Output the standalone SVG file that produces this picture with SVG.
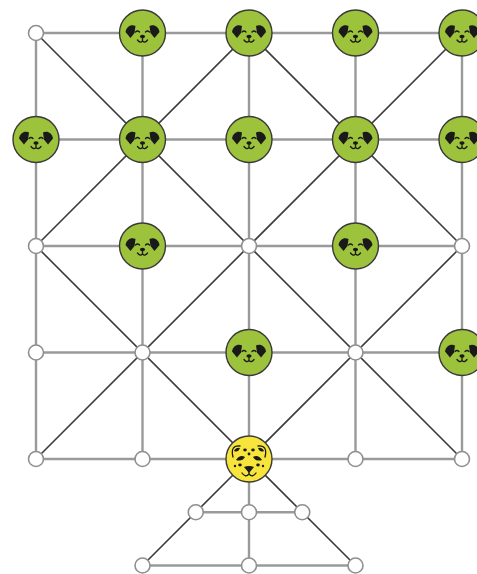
<svg xmlns="http://www.w3.org/2000/svg" width="477" height="574" viewBox="0 0 477 574">
  <style>
    .ortho { stroke: #9a9a9a; stroke-width: 2.4; fill: none; }
    .diag { stroke: #3c3c3c; stroke-width: 1.6; fill: none; }
    .spot { fill: #ffffff; stroke: #8f8f8f; stroke-width: 1.6; }
    .dog-disc { fill: #9dc23b; stroke: #3a3a3a; stroke-width: 1.4; }
    .cat-disc { fill: #f7e53c; stroke: #3a3a3a; stroke-width: 1.4; }
    .ink { fill: #1a1a1a; }
    .inkline { stroke: #1a1a1a; stroke-width: 1.3; fill: none; stroke-linecap: round; }
  </style>
  <defs>
    <!-- goat/dog piece: green disc with a simple face -->
    <g id="dog">
      <circle class="dog-disc" r="23"/>
      <path class="ink" d="M-17,-1 C-16,-7 -11,-9 -7,-7 L-8,0 L-12,5 Z"/>
      <path class="ink" d="M17,-1 C16,-7 11,-9 7,-7 L8,0 L12,5 Z"/>
      <path class="inkline" d="M-7,-1 Q-5,-3 -3,-1"/>
      <path class="inkline" d="M3,-1 Q5,-3 7,-1"/>
      <ellipse class="ink" cx="0" cy="3.5" rx="2.6" ry="1.8"/>
      <path class="inkline" d="M0,4 V8 M-5,7 Q-2.5,10.5 0,8 Q2.5,10.5 5,7"/>
    </g>
    <!-- leopard piece: yellow disc with a spotted face -->
    <g id="leopard">
      <circle class="cat-disc" r="23"/>
      <path class="inkline" stroke-width="1.6" d="M-16,-2 Q-19,-14 -9,-13 M16,-2 Q19,-14 9,-13"/>
      <path class="ink" d="M-15,-8 Q-13,-12 -9,-11 Q-11,-6 -15,-8 Z"/>
      <path class="ink" d="M15,-8 Q13,-12 9,-11 Q11,-6 15,-8 Z"/>
      <path class="ink" d="M-13,1 Q-9,-5 -4,-2 Q-7,3 -13,1 Z"/>
      <path class="ink" d="M13,1 Q9,-5 4,-2 Q7,3 13,1 Z"/>
      <ellipse class="ink" cx="-4" cy="-9" rx="1.8" ry="1.4"/>
      <ellipse class="ink" cx="4" cy="-9" rx="1.8" ry="1.4"/>
      <circle class="ink" cx="0" cy="-5" r="1.4"/>
      <ellipse class="ink" cx="-9" cy="6" rx="1.8" ry="1.4"/>
      <ellipse class="ink" cx="9" cy="6" rx="1.8" ry="1.4"/>
      <circle class="ink" cx="-14" cy="7" r="1.2"/>
      <circle class="ink" cx="14" cy="7" r="1.2"/>
      <path class="ink" d="M-5,8 Q0,6 5,8 L0,14 Z"/>
      <path class="inkline" stroke-width="1.6" d="M0,13 V15 M-7,14 Q-3.5,19 0,15 Q3.5,19 7,14"/>
    </g>
  </defs>

  <g id="connectors">
    <!-- grid rows -->
    <path class="ortho" d="M36,33 H462 M36,139.5 H462 M36,246 H462 M36,352.5 H462 M36,459 H462"/>
    <!-- grid columns -->
    <path class="ortho" d="M36,33 V459 M142.5,33 V459 M249,33 V565.5 M355.5,33 V459 M462,33 V459"/>
    <!-- lower extension crossbars -->
    <path class="ortho" d="M195.75,512.25 H302.25 M142.5,565.5 H355.5"/>
    <!-- diagonals from every other intersection -->
    <path class="diag" d="M36,33 L142.5,139.5 L249,33 L355.5,139.5 L462,33"/>
    <path class="diag" d="M36,246 L142.5,139.5 L249,246 L355.5,139.5 L462,246"/>
    <path class="diag" d="M36,246 L142.5,352.5 L249,246 L355.5,352.5 L462,246"/>
    <path class="diag" d="M36,459 L142.5,352.5 L249,459 L355.5,352.5 L462,459"/>
    <!-- lower extension slopes -->
    <path class="diag" d="M249,459 L142.5,565.5 M249,459 L355.5,565.5"/>
  </g>

  <!-- empty points -->
  <g id="p00"><circle class="spot" cx="36" cy="33" r="7.5"/></g>
  <g id="p02"><circle class="spot" cx="36" cy="246" r="7.5"/></g>
  <g id="p22"><circle class="spot" cx="249" cy="246" r="7.5"/></g>
  <g id="p42"><circle class="spot" cx="462" cy="246" r="7.5"/></g>
  <g id="p03"><circle class="spot" cx="36" cy="352.5" r="7.5"/></g>
  <g id="p13"><circle class="spot" cx="142.5" cy="352.5" r="7.5"/></g>
  <g id="p33"><circle class="spot" cx="355.5" cy="352.5" r="7.5"/></g>
  <g id="p04"><circle class="spot" cx="36" cy="459" r="7.5"/></g>
  <g id="p14"><circle class="spot" cx="142.5" cy="459" r="7.5"/></g>
  <g id="p34"><circle class="spot" cx="355.5" cy="459" r="7.5"/></g>
  <g id="p44"><circle class="spot" cx="462" cy="459" r="7.5"/></g>
  <g id="e1l"><circle class="spot" cx="195.75" cy="512.25" r="7.5"/></g>
  <g id="e1c"><circle class="spot" cx="249" cy="512.25" r="7.5"/></g>
  <g id="e1r"><circle class="spot" cx="302.25" cy="512.25" r="7.5"/></g>
  <g id="e2l"><circle class="spot" cx="142.5" cy="565.5" r="7.5"/></g>
  <g id="e2c"><circle class="spot" cx="249" cy="565.5" r="7.5"/></g>
  <g id="e2r"><circle class="spot" cx="355.5" cy="565.5" r="7.5"/></g>

  <!-- dog pieces -->
  <g id="d10"><use href="#dog" x="142.5" y="33"/></g>
  <g id="d20"><use href="#dog" x="249" y="33"/></g>
  <g id="d30"><use href="#dog" x="355.5" y="33"/></g>
  <g id="d40"><use href="#dog" x="462" y="33"/></g>
  <g id="d01"><use href="#dog" x="36" y="139.5"/></g>
  <g id="d11"><use href="#dog" x="142.5" y="139.5"/></g>
  <g id="d21"><use href="#dog" x="249" y="139.5"/></g>
  <g id="d31"><use href="#dog" x="355.5" y="139.5"/></g>
  <g id="d41"><use href="#dog" x="462" y="139.5"/></g>
  <g id="d12"><use href="#dog" x="142.5" y="246"/></g>
  <g id="d32"><use href="#dog" x="355.5" y="246"/></g>
  <g id="d23"><use href="#dog" x="249" y="352.5"/></g>
  <g id="d43"><use href="#dog" x="462" y="352.5"/></g>

  <!-- leopard piece -->
  <g id="l24"><use href="#leopard" x="249" y="459"/></g>
</svg>
